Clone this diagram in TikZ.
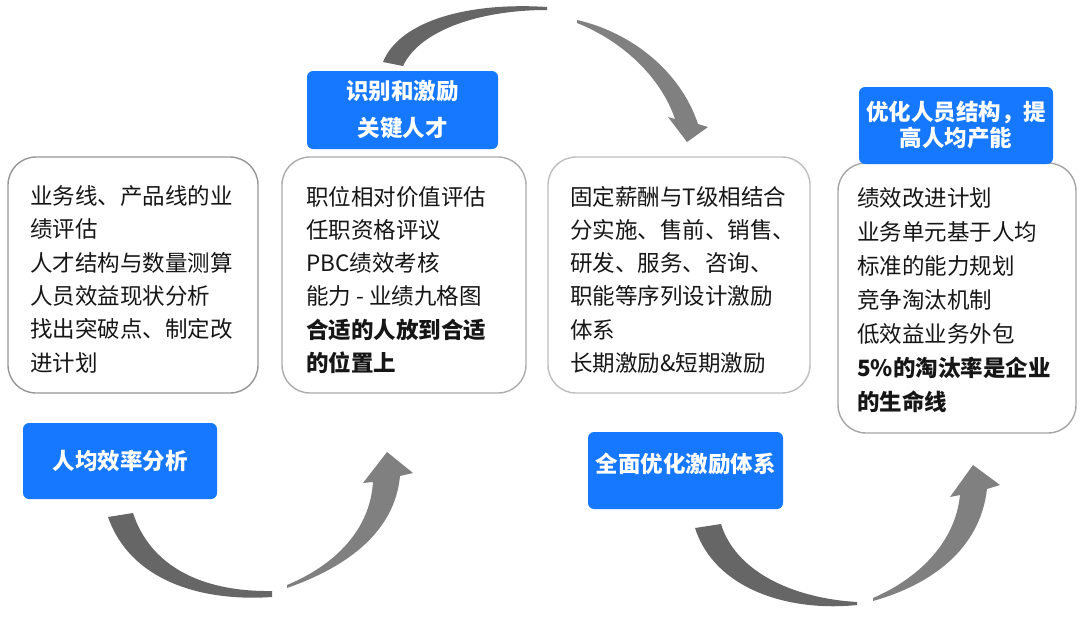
\documentclass[tikz,border=0pt]{standalone}
\usepackage{fontspec}
\setmainfont{Noto Sans CJK SC}
\definecolor{bluebox}{RGB}{22,119,255}
\definecolor{txtc}{RGB}{22,22,22}
\definecolor{arrdark}{RGB}{102,102,102}
\definecolor{arrlight}{RGB}{128,128,128}
\definecolor{gA}{RGB}{150,150,150}
\definecolor{gB}{RGB}{172,172,172}
\definecolor{gC}{RGB}{190,190,190}
\definecolor{gD}{RGB}{165,165,165}
\tikzset{
  card/.style={draw=#1, line width=1.4pt, rounded corners=28pt, fill=white, inner sep=0pt},
  tag/.style={fill=bluebox, rounded corners=6pt, inner sep=0pt, text=white, align=center,
    font=\bfseries\fontsize{22.5pt}{#1}\selectfont},
  bodytxt/.style={anchor=north west, inner sep=0pt, align=left, text=txtc,
    font=\fontsize{22.5pt}{#1}\selectfont},
  darkarrow/.style={fill=arrdark},
  lightarrow/.style={fill=arrlight}
}
\begin{document}
\begin{tikzpicture}[x=1pt,y=-1pt]
\useasboundingbox (0,0) rectangle (1080,622);

% white cards
\node[card=gA, minimum width=250pt, minimum height=236pt] (box1) at (133,275) {};
\node[card=gB, minimum width=244pt, minimum height=236pt] (box2) at (404,275) {};
\node[card=gC, minimum width=262pt, minimum height=236pt] (box3) at (679,275) {};
\node[card=gD, minimum width=238pt, minimum height=270pt] (box4) at (957,298) {};

% card texts
\node[bodytxt=33.4pt] (t1) at (30,184) {\rule{0pt}{20pt}业务线、产品线的业\\绩评估\\人才结构与数量测算\\人员效益现状分析\\找出突破点、制定改\\进计划};
\node[bodytxt=33.2pt] (t2) at (306,185) {\rule{0pt}{20pt}职位相对价值评估\\任职资格评议\\PBC绩效考核\\能力 - 业绩九格图\\\textbf{合适的人放到合适}\\\textbf{的位置上}};
\node[bodytxt=33.2pt] (t3) at (570,185) {\rule{0pt}{20pt}固定薪酬与T级相结合\\分实施、售前、销售、\\研发、服务、咨询、\\职能等序列设计激励\\体系\\长期激励\&短期激励};
\node[bodytxt=34pt] (t4) at (857,186.5) {\rule{0pt}{20pt}绩效改进计划\\业务单元基于人均\\标准的能力规划\\竞争淘汰机制\\低效益业务外包\\\textbf{5\%的淘汰率是企业}\\\textbf{的生命线}};

% blue tags
\node[tag=30pt, minimum width=194pt, minimum height=76pt] (b1) at (120,461) {人均效率分析};
\node[tag=37pt, minimum width=191pt, minimum height=78pt] (b2) at (402.5,110) {识别和激励\\关键人才};
\node[tag=30pt, minimum width=195pt, minimum height=77pt, text depth=15.5pt] (b3) at (685.5,470.5) {全面优化激励体系};
\node[tag=26pt, minimum width=194pt, minimum height=77pt] (b4) at (956,125.5) {优化人员结构，提\\高人均产能};

% arrow 1 (bottom left)
\fill[darkarrow] (108,517) .. controls (130,580) and (200,602) .. (272,597)
  -- (272,591) .. controls (200,592) and (150,565) .. (133,513) -- cycle;
\fill[lightarrow] (287,588) .. controls (350,566) and (395,530) .. (400,476)
  -- (413,473) -- (387,452) -- (363,483) -- (373,482)
  .. controls (370,530) and (335,565) .. (287,585) -- cycle;

% arrow 2 (top)
\fill[darkarrow] (383,62) .. controls (400,20) and (470,2) .. (547,7)
  -- (547,10) .. controls (480,10) and (420,30) .. (403,66) -- cycle;
\fill[lightarrow] (577,20) .. controls (630,32) and (680,70) .. (698,124)
  -- (708,127) -- (687,142) -- (668,117) -- (675,119)
  .. controls (660,75) and (620,40) .. (577,23) -- cycle;

% arrow 3 (bottom right)
\fill[darkarrow] (695,528) .. controls (715,590) and (790,612) .. (857,605)
  -- (857,602) .. controls (790,598) and (735,570) .. (721,524) -- cycle;
\fill[lightarrow] (873,601) .. controls (930,585) and (980,550) .. (987,489)
  -- (1000,485) -- (973,465) -- (950,497) -- (960,495)
  .. controls (955,545) and (915,580) .. (873,598) -- cycle;
\end{tikzpicture}
\end{document}
